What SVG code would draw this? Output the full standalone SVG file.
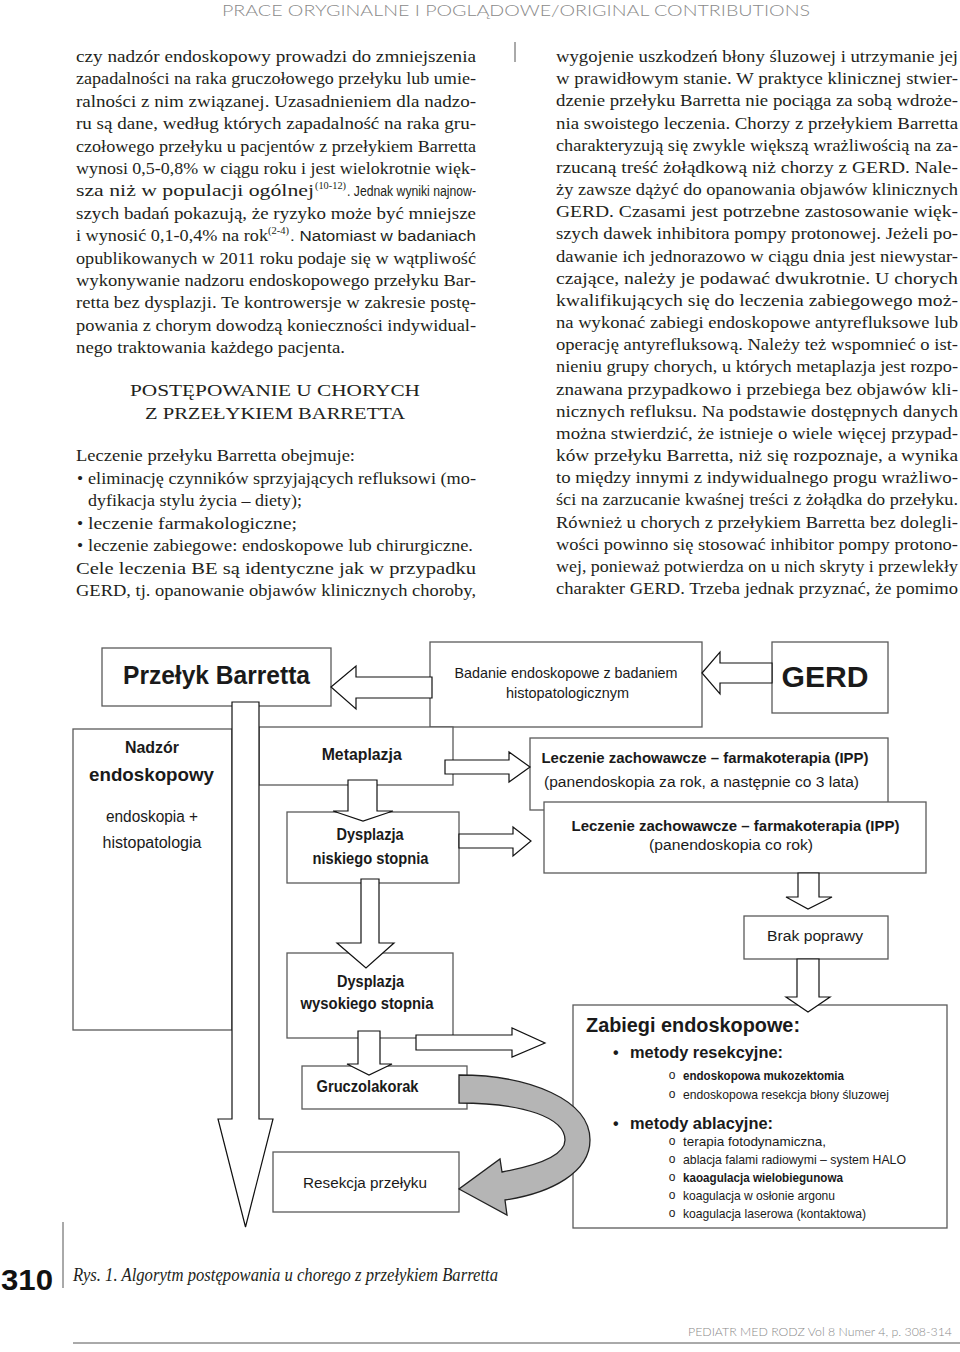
<svg xmlns="http://www.w3.org/2000/svg" width="960" height="1352" viewBox="0 0 960 1352">
<style>
.hdr{font-family:Lato,"Open Sans",sans-serif;font-weight:300;fill:#8a8a8a}
.bt{font-family:"Liberation Serif","Times New Roman",serif;font-size:17.5px;fill:#231f20}
.bs{font-family:"Liberation Sans",Arial,sans-serif;font-size:15.5px;fill:#231f20}
.sup{font-family:"Liberation Serif","Times New Roman",serif;font-size:11px;fill:#231f20}
.hd{font-family:"Liberation Serif","Times New Roman",serif;font-size:17px;fill:#231f20}
.cap{font-family:"Liberation Serif","Times New Roman",serif;font-style:italic;font-size:18px;fill:#231f20}
.box{fill:#fff;stroke:#5a5a5a;stroke-width:1.3}
.arr{fill:#fff;stroke:#111;stroke-width:1.2;stroke-linejoin:miter}
.garr{fill:#b5b5b5;stroke:#222;stroke-width:1.3}
.lb{font-family:"Liberation Sans",Arial,sans-serif;font-weight:bold;fill:#1a1a1a}
.lr{font-family:"Liberation Sans",Arial,sans-serif;fill:#1a1a1a}
</style>
<rect width="960" height="1352" fill="#fff"/>

<!-- page header -->
<text class="hdr" x="222" y="16" font-size="16" textLength="588" lengthAdjust="spacingAndGlyphs">PRACE ORYGINALNE I POGLĄDOWE/ORIGINAL CONTRIBUTIONS</text>
<line x1="515" y1="42" x2="515" y2="62" stroke="#555" stroke-width="1"/>

<!-- left column -->
<g id="left-column">
<text class="bt" x="76" y="62" textLength="400" lengthAdjust="spacingAndGlyphs">czy nadzór endoskopowy prowadzi do zmniejszenia</text>
<text class="bt" x="76" y="84.4" textLength="400" lengthAdjust="spacingAndGlyphs">zapadalności na raka gruczołowego przełyku lub umie-</text>
<text class="bt" x="76" y="106.8" textLength="400" lengthAdjust="spacingAndGlyphs">ralności z nim związanej. Uzasadnieniem dla nadzo-</text>
<text class="bt" x="76" y="129.2" textLength="400" lengthAdjust="spacingAndGlyphs">ru są dane, według których zapadalność na raka gru-</text>
<text class="bt" x="76" y="151.6" textLength="400" lengthAdjust="spacingAndGlyphs">czołowego przełyku u pacjentów z przełykiem Barretta</text>
<text class="bt" x="76" y="174" textLength="400" lengthAdjust="spacingAndGlyphs">wynosi 0,5-0,8% w ciągu roku i jest wielokrotnie więk-</text>
<text class="bt" x="76" y="196.4" textLength="238" lengthAdjust="spacingAndGlyphs">sza niż w populacji ogólnej</text>
<text class="sup" x="315" y="189" textLength="31" lengthAdjust="spacingAndGlyphs">(10-12)</text>
<text class="bs" x="347" y="196.4" textLength="129" lengthAdjust="spacingAndGlyphs">. Jednak wyniki najnow-</text>
<text class="bt" x="76" y="218.8" textLength="400" lengthAdjust="spacingAndGlyphs">szych badań pokazują, że ryzyko może być mniejsze</text>
<text class="bt" x="76" y="241.2" textLength="192" lengthAdjust="spacingAndGlyphs">i wynosić 0,1-0,4% na rok</text>
<text class="sup" x="268" y="234" textLength="21" lengthAdjust="spacingAndGlyphs">(2-4)</text>
<text class="bs" x="290" y="241.2" textLength="186" lengthAdjust="spacingAndGlyphs">. Natomiast w badaniach</text>
<text class="bt" x="76" y="263.6" textLength="400" lengthAdjust="spacingAndGlyphs">opublikowanych w 2011 roku podaje się w wątpliwość</text>
<text class="bt" x="76" y="286" textLength="400" lengthAdjust="spacingAndGlyphs">wykonywanie nadzoru endoskopowego przełyku Bar-</text>
<text class="bt" x="76" y="308.4" textLength="400" lengthAdjust="spacingAndGlyphs">retta bez dysplazji. Te kontrowersje w zakresie postę-</text>
<text class="bt" x="76" y="330.8" textLength="400" lengthAdjust="spacingAndGlyphs">powania z chorym dowodzą konieczności indywidual-</text>
<text class="bt" x="76" y="353.2" textLength="269" lengthAdjust="spacingAndGlyphs">nego traktowania każdego pacjenta.</text>

<text class="hd" x="130" y="396" textLength="290" lengthAdjust="spacingAndGlyphs">POSTĘPOWANIE  U CHORYCH</text>
<text class="hd" x="145" y="419" textLength="260" lengthAdjust="spacingAndGlyphs">Z PRZEŁYKIEM BARRETTA</text>

<text class="bt" x="76" y="461" textLength="279" lengthAdjust="spacingAndGlyphs">Leczenie  przełyku Barretta obejmuje:</text>
<text class="bt" x="77" y="483.5">•</text>
<text class="bt" x="88" y="483.5" textLength="388" lengthAdjust="spacingAndGlyphs">eliminację czynników sprzyjających refluksowi (mo-</text>
<text class="bt" x="88" y="506" textLength="214" lengthAdjust="spacingAndGlyphs">dyfikacja stylu życia – diety);</text>
<text class="bt" x="77" y="528.5">•</text>
<text class="bt" x="88" y="528.5" textLength="209" lengthAdjust="spacingAndGlyphs">leczenie farmakologiczne;</text>
<text class="bt" x="77" y="551">•</text>
<text class="bt" x="88" y="551" textLength="385" lengthAdjust="spacingAndGlyphs">leczenie zabiegowe: endoskopowe lub chirurgiczne.</text>
<text class="bt" x="76" y="573.5" textLength="400" lengthAdjust="spacingAndGlyphs">Cele leczenia BE są identyczne jak w przypadku</text>
<text class="bt" x="76" y="596" textLength="400" lengthAdjust="spacingAndGlyphs">GERD, tj. opanowanie objawów klinicznych choroby,</text>
</g>

<!-- right column -->
<g id="right-column">
<text class="bt" x="556" y="62" textLength="402" lengthAdjust="spacingAndGlyphs">wygojenie uszkodzeń błony śluzowej i utrzymanie jej</text>
<text class="bt" x="556" y="84.2" textLength="402" lengthAdjust="spacingAndGlyphs">w prawidłowym stanie. W praktyce klinicznej stwier-</text>
<text class="bt" x="556" y="106.3" textLength="402" lengthAdjust="spacingAndGlyphs">dzenie przełyku Barretta nie pociąga za sobą wdroże-</text>
<text class="bt" x="556" y="128.5" textLength="402" lengthAdjust="spacingAndGlyphs">nia swoistego leczenia. Chorzy z przełykiem Barretta</text>
<text class="bt" x="556" y="150.7" textLength="402" lengthAdjust="spacingAndGlyphs">charakteryzują się zwykle większą wrażliwością na za-</text>
<text class="bt" x="556" y="172.9" textLength="402" lengthAdjust="spacingAndGlyphs">rzucaną treść żołądkową niż chorzy z GERD. Nale-</text>
<text class="bt" x="556" y="195" textLength="402" lengthAdjust="spacingAndGlyphs">ży zawsze dążyć do opanowania objawów klinicznych</text>
<text class="bt" x="556" y="217.2" textLength="402" lengthAdjust="spacingAndGlyphs">GERD. Czasami jest potrzebne zastosowanie więk-</text>
<text class="bt" x="556" y="239.4" textLength="402" lengthAdjust="spacingAndGlyphs">szych dawek inhibitora pompy protonowej. Jeżeli po-</text>
<text class="bt" x="556" y="261.5" textLength="402" lengthAdjust="spacingAndGlyphs">dawanie ich jednorazowo w ciągu dnia jest niewystar-</text>
<text class="bt" x="556" y="283.7" textLength="402" lengthAdjust="spacingAndGlyphs">czające, należy je podawać dwukrotnie. U chorych</text>
<text class="bt" x="556" y="305.9" textLength="402" lengthAdjust="spacingAndGlyphs">kwalifikujących się do leczenia zabiegowego moż-</text>
<text class="bt" x="556" y="328" textLength="402" lengthAdjust="spacingAndGlyphs">na wykonać zabiegi endoskopowe antyrefluksowe lub</text>
<text class="bt" x="556" y="350.2" textLength="402" lengthAdjust="spacingAndGlyphs">operację antyrefluksową. Należy też wspomnieć o ist-</text>
<text class="bt" x="556" y="372.4" textLength="402" lengthAdjust="spacingAndGlyphs">nieniu grupy chorych, u których metaplazja jest rozpo-</text>
<text class="bt" x="556" y="394.6" textLength="402" lengthAdjust="spacingAndGlyphs">znawana przypadkowo i przebiega bez objawów kli-</text>
<text class="bt" x="556" y="416.7" textLength="402" lengthAdjust="spacingAndGlyphs">nicznych refluksu. Na podstawie dostępnych danych</text>
<text class="bt" x="556" y="438.9" textLength="402" lengthAdjust="spacingAndGlyphs">można stwierdzić, że istnieje o wiele więcej przypad-</text>
<text class="bt" x="556" y="461.1" textLength="402" lengthAdjust="spacingAndGlyphs">ków przełyku Barretta, niż się rozpoznaje, a wynika</text>
<text class="bt" x="556" y="483.2" textLength="402" lengthAdjust="spacingAndGlyphs">to między innymi z indywidualnego progu wrażliwo-</text>
<text class="bt" x="556" y="505.4" textLength="402" lengthAdjust="spacingAndGlyphs">ści na zarzucanie kwaśnej treści z żołądka do przełyku.</text>
<text class="bt" x="556" y="527.6" textLength="402" lengthAdjust="spacingAndGlyphs">Również u chorych z przełykiem Barretta bez dolegli-</text>
<text class="bt" x="556" y="549.7" textLength="402" lengthAdjust="spacingAndGlyphs">wości powinno się stosować inhibitor pompy protono-</text>
<text class="bt" x="556" y="571.9" textLength="402" lengthAdjust="spacingAndGlyphs">wej, ponieważ potwierdza on u nich skryty i przewlekły</text>
<text class="bt" x="556" y="594.1" textLength="402" lengthAdjust="spacingAndGlyphs">charakter GERD. Trzeba jednak przyznać, że pomimo</text>
</g>

<!-- diagram nodes -->
<g id="node-przelyk">
<rect class="box" x="102" y="648" width="229" height="58"/>
<text class="lb" x="216.5" y="684" font-size="25" text-anchor="middle" textLength="187" lengthAdjust="spacingAndGlyphs">Przełyk Barretta</text>
</g>
<g id="node-badanie">
<rect class="box" x="430" y="642" width="272" height="85"/>
<text class="lr" x="566" y="678" font-size="14.5" text-anchor="middle" textLength="223" lengthAdjust="spacingAndGlyphs">Badanie endoskopowe z badaniem</text>
<text class="lr" x="567.5" y="698" font-size="14.5" text-anchor="middle" textLength="123" lengthAdjust="spacingAndGlyphs">histopatologicznym</text>
</g>
<g id="node-gerd">
<rect class="box" x="772" y="642" width="116" height="71"/>
<text class="lb" x="825" y="687" font-size="29" text-anchor="middle" textLength="87" lengthAdjust="spacingAndGlyphs">GERD</text>
</g>
<g id="node-nadzor">
<rect class="box" x="73" y="729" width="159" height="301"/>
<text class="lb" x="152" y="752.5" font-size="16" text-anchor="middle" textLength="54" lengthAdjust="spacingAndGlyphs">Nadzór</text>
<text class="lb" x="151.5" y="781" font-size="19" text-anchor="middle" textLength="125" lengthAdjust="spacingAndGlyphs">endoskopowy</text>
<text class="lr" x="152" y="822" font-size="16" text-anchor="middle" textLength="92" lengthAdjust="spacingAndGlyphs">endoskopia +</text>
<text class="lr" x="152" y="848" font-size="16" text-anchor="middle" textLength="99" lengthAdjust="spacingAndGlyphs">histopatologia</text>
</g>
<g id="node-metaplazja">
<rect class="box" x="259" y="727" width="194" height="58"/>
<text class="lb" x="361.7" y="760" font-size="16" text-anchor="middle" textLength="80" lengthAdjust="spacingAndGlyphs">Metaplazja</text>
</g>
<g id="node-leczenie1">
<rect class="box" x="530" y="738" width="358" height="72"/>
<text class="lb" x="705" y="763" font-size="15.5" text-anchor="middle" textLength="327" lengthAdjust="spacingAndGlyphs">Leczenie zachowawcze – farmakoterapia (IPP)</text>
<text class="lr" x="701.5" y="787" font-size="15.5" text-anchor="middle" textLength="315" lengthAdjust="spacingAndGlyphs">(panendoskopia za rok, a następnie co 3 lata)</text>
</g>
<g id="node-leczenie2">
<rect class="box" x="544" y="802" width="382" height="71"/>
<text class="lb" x="735.5" y="831" font-size="15.5" text-anchor="middle" textLength="328" lengthAdjust="spacingAndGlyphs">Leczenie zachowawcze – farmakoterapia (IPP)</text>
<text class="lr" x="731" y="850" font-size="15.5" text-anchor="middle" textLength="164" lengthAdjust="spacingAndGlyphs">(panendoskopia co rok)</text>
</g>
<g id="node-dysplazja-niskiego">
<rect class="box" x="287" y="812" width="172" height="71"/>
<text class="lb" x="370" y="840" font-size="16" text-anchor="middle" textLength="67" lengthAdjust="spacingAndGlyphs">Dysplazja</text>
<text class="lb" x="370.5" y="864" font-size="16" text-anchor="middle" textLength="116" lengthAdjust="spacingAndGlyphs">niskiego stopnia</text>
</g>
<g id="node-brak-poprawy">
<rect class="box" x="744" y="916" width="144" height="43"/>
<text class="lr" x="815" y="941" font-size="15.5" text-anchor="middle" textLength="96" lengthAdjust="spacingAndGlyphs">Brak poprawy</text>
</g>
<g id="node-dysplazja-wysokiego">
<rect class="box" x="287" y="953" width="166" height="85"/>
<text class="lb" x="370.5" y="987" font-size="16" text-anchor="middle" textLength="67" lengthAdjust="spacingAndGlyphs">Dysplazja</text>
<text class="lb" x="367" y="1009" font-size="16" text-anchor="middle" textLength="133" lengthAdjust="spacingAndGlyphs">wysokiego stopnia</text>
</g>
<g id="node-gruczolakorak">
<rect class="box" x="302" y="1066" width="165" height="43"/>
<text class="lb" x="367.5" y="1092" font-size="16" text-anchor="middle" textLength="102" lengthAdjust="spacingAndGlyphs">Gruczolakorak</text>
</g>
<g id="node-resekcja">
<rect class="box" x="273" y="1152" width="186" height="60"/>
<text class="lr" x="365" y="1188" font-size="15.5" text-anchor="middle" textLength="124" lengthAdjust="spacingAndGlyphs">Resekcja przełyku</text>
</g>
<g id="node-zabiegi">
<rect class="box" x="573" y="1005" width="374" height="223"/>
<text class="lb" x="586" y="1032" font-size="20" textLength="214" lengthAdjust="spacingAndGlyphs">Zabiegi endoskopowe:</text>
<text class="lb" x="613" y="1058" font-size="16">•</text>
<text class="lb" x="630" y="1058" font-size="17" textLength="153" lengthAdjust="spacingAndGlyphs">metody resekcyjne:</text>
<text class="lr" x="672" y="1079" font-size="12" text-anchor="middle">o</text>
<text class="lb" x="683" y="1080" font-size="13.5" textLength="161" lengthAdjust="spacingAndGlyphs">endoskopowa mukozektomia</text>
<text class="lr" x="672" y="1098" font-size="12" text-anchor="middle">o</text>
<text class="lr" x="683" y="1099" font-size="13.5" textLength="206" lengthAdjust="spacingAndGlyphs">endoskopowa resekcja błony śluzowej</text>
<text class="lb" x="613" y="1129" font-size="16">•</text>
<text class="lb" x="630" y="1129" font-size="17" textLength="143" lengthAdjust="spacingAndGlyphs">metody ablacyjne:</text>
<text class="lr" x="672" y="1145" font-size="12" text-anchor="middle">o</text>
<text class="lr" x="683" y="1146" font-size="13.5" textLength="143" lengthAdjust="spacingAndGlyphs">terapia fotodynamiczna,</text>
<text class="lr" x="672" y="1163" font-size="12" text-anchor="middle">o</text>
<text class="lr" x="683" y="1164" font-size="13.5" textLength="223" lengthAdjust="spacingAndGlyphs">ablacja falami radiowymi – system HALO</text>
<text class="lr" x="672" y="1181" font-size="12" text-anchor="middle">o</text>
<text class="lb" x="683" y="1182" font-size="13.5" textLength="160" lengthAdjust="spacingAndGlyphs">kaoagulacja wielobiegunowa</text>
<text class="lr" x="672" y="1199" font-size="12" text-anchor="middle">o</text>
<text class="lr" x="683" y="1200" font-size="13.5" textLength="152" lengthAdjust="spacingAndGlyphs">koagulacja w osłonie argonu</text>
<text class="lr" x="672" y="1217" font-size="12" text-anchor="middle">o</text>
<text class="lr" x="683" y="1218" font-size="13.5" textLength="183" lengthAdjust="spacingAndGlyphs">koagulacja laserowa (kontaktowa)</text>
</g>

<!-- connectors: hollow block arrows -->
<g id="connectors">
<polygon class="arr" points="331,687 356,666 356,677 432,677 432,698 356,698 356,709"/>
<polygon class="arr" points="702,673 720,652 720,663 772,663 772,683 720,683 720,694"/>
<polygon class="arr" points="232,702 259,702 259,1119 273,1119 245.5,1227 218,1119 232,1119"/>
<polygon class="arr" points="348,780 377,780 377,811 393,811 363,821 333,811 348,811"/>
<polygon class="arr" points="361,879 379,879 379,943 394,943 366,968 337,943 361,943"/>
<polygon class="arr" points="358,1031 380,1031 380,1064 392,1064 369,1075 347,1064 358,1064"/>
<polygon class="arr" points="416,1035 512,1035 512,1028 545,1043 512,1057 512,1050 416,1050"/>
<polygon class="arr" points="445,760 509,760 509,752 530,767 509,782 509,774 445,774"/>
<polygon class="arr" points="459,834 513,834 513,827 531,841 513,856 513,848 459,848"/>
<polygon class="arr" points="798,873 819,873 819,897 832,897 808,909 786,897 798,897"/>
<polygon class="arr" points="797,959 819,959 819,997 830,997 808,1012 786,997 797,997"/>
<path class="garr" d="M459,1075 C530,1075 590,1100 590,1140 C590,1172 552,1193 505,1200 L507,1215 L459,1189 L500,1159 L502,1172 C540,1165 565,1155 565,1140 C565,1118 525,1103 459,1103 Z"/>
</g>

<!-- caption and footer -->
<text x="1" y="1290" font-family="Liberation Sans,Arial,sans-serif" font-weight="900" font-size="29" fill="#111" textLength="52" lengthAdjust="spacingAndGlyphs">310</text>
<line x1="63" y1="1222" x2="63" y2="1288" stroke="#555" stroke-width="1"/>
<text class="cap" x="73" y="1281" textLength="425" lengthAdjust="spacingAndGlyphs">Rys. 1. Algorytm postępowania u chorego z przełykiem Barretta</text>
<text class="hdr" x="952" y="1336" font-size="12.5" text-anchor="end" textLength="264" lengthAdjust="spacingAndGlyphs">PEDIATR MED RODZ Vol 8 Numer 4, p. 308-314</text>
<line x1="73" y1="1343" x2="960" y2="1343" stroke="#555" stroke-width="1"/>
</svg>
